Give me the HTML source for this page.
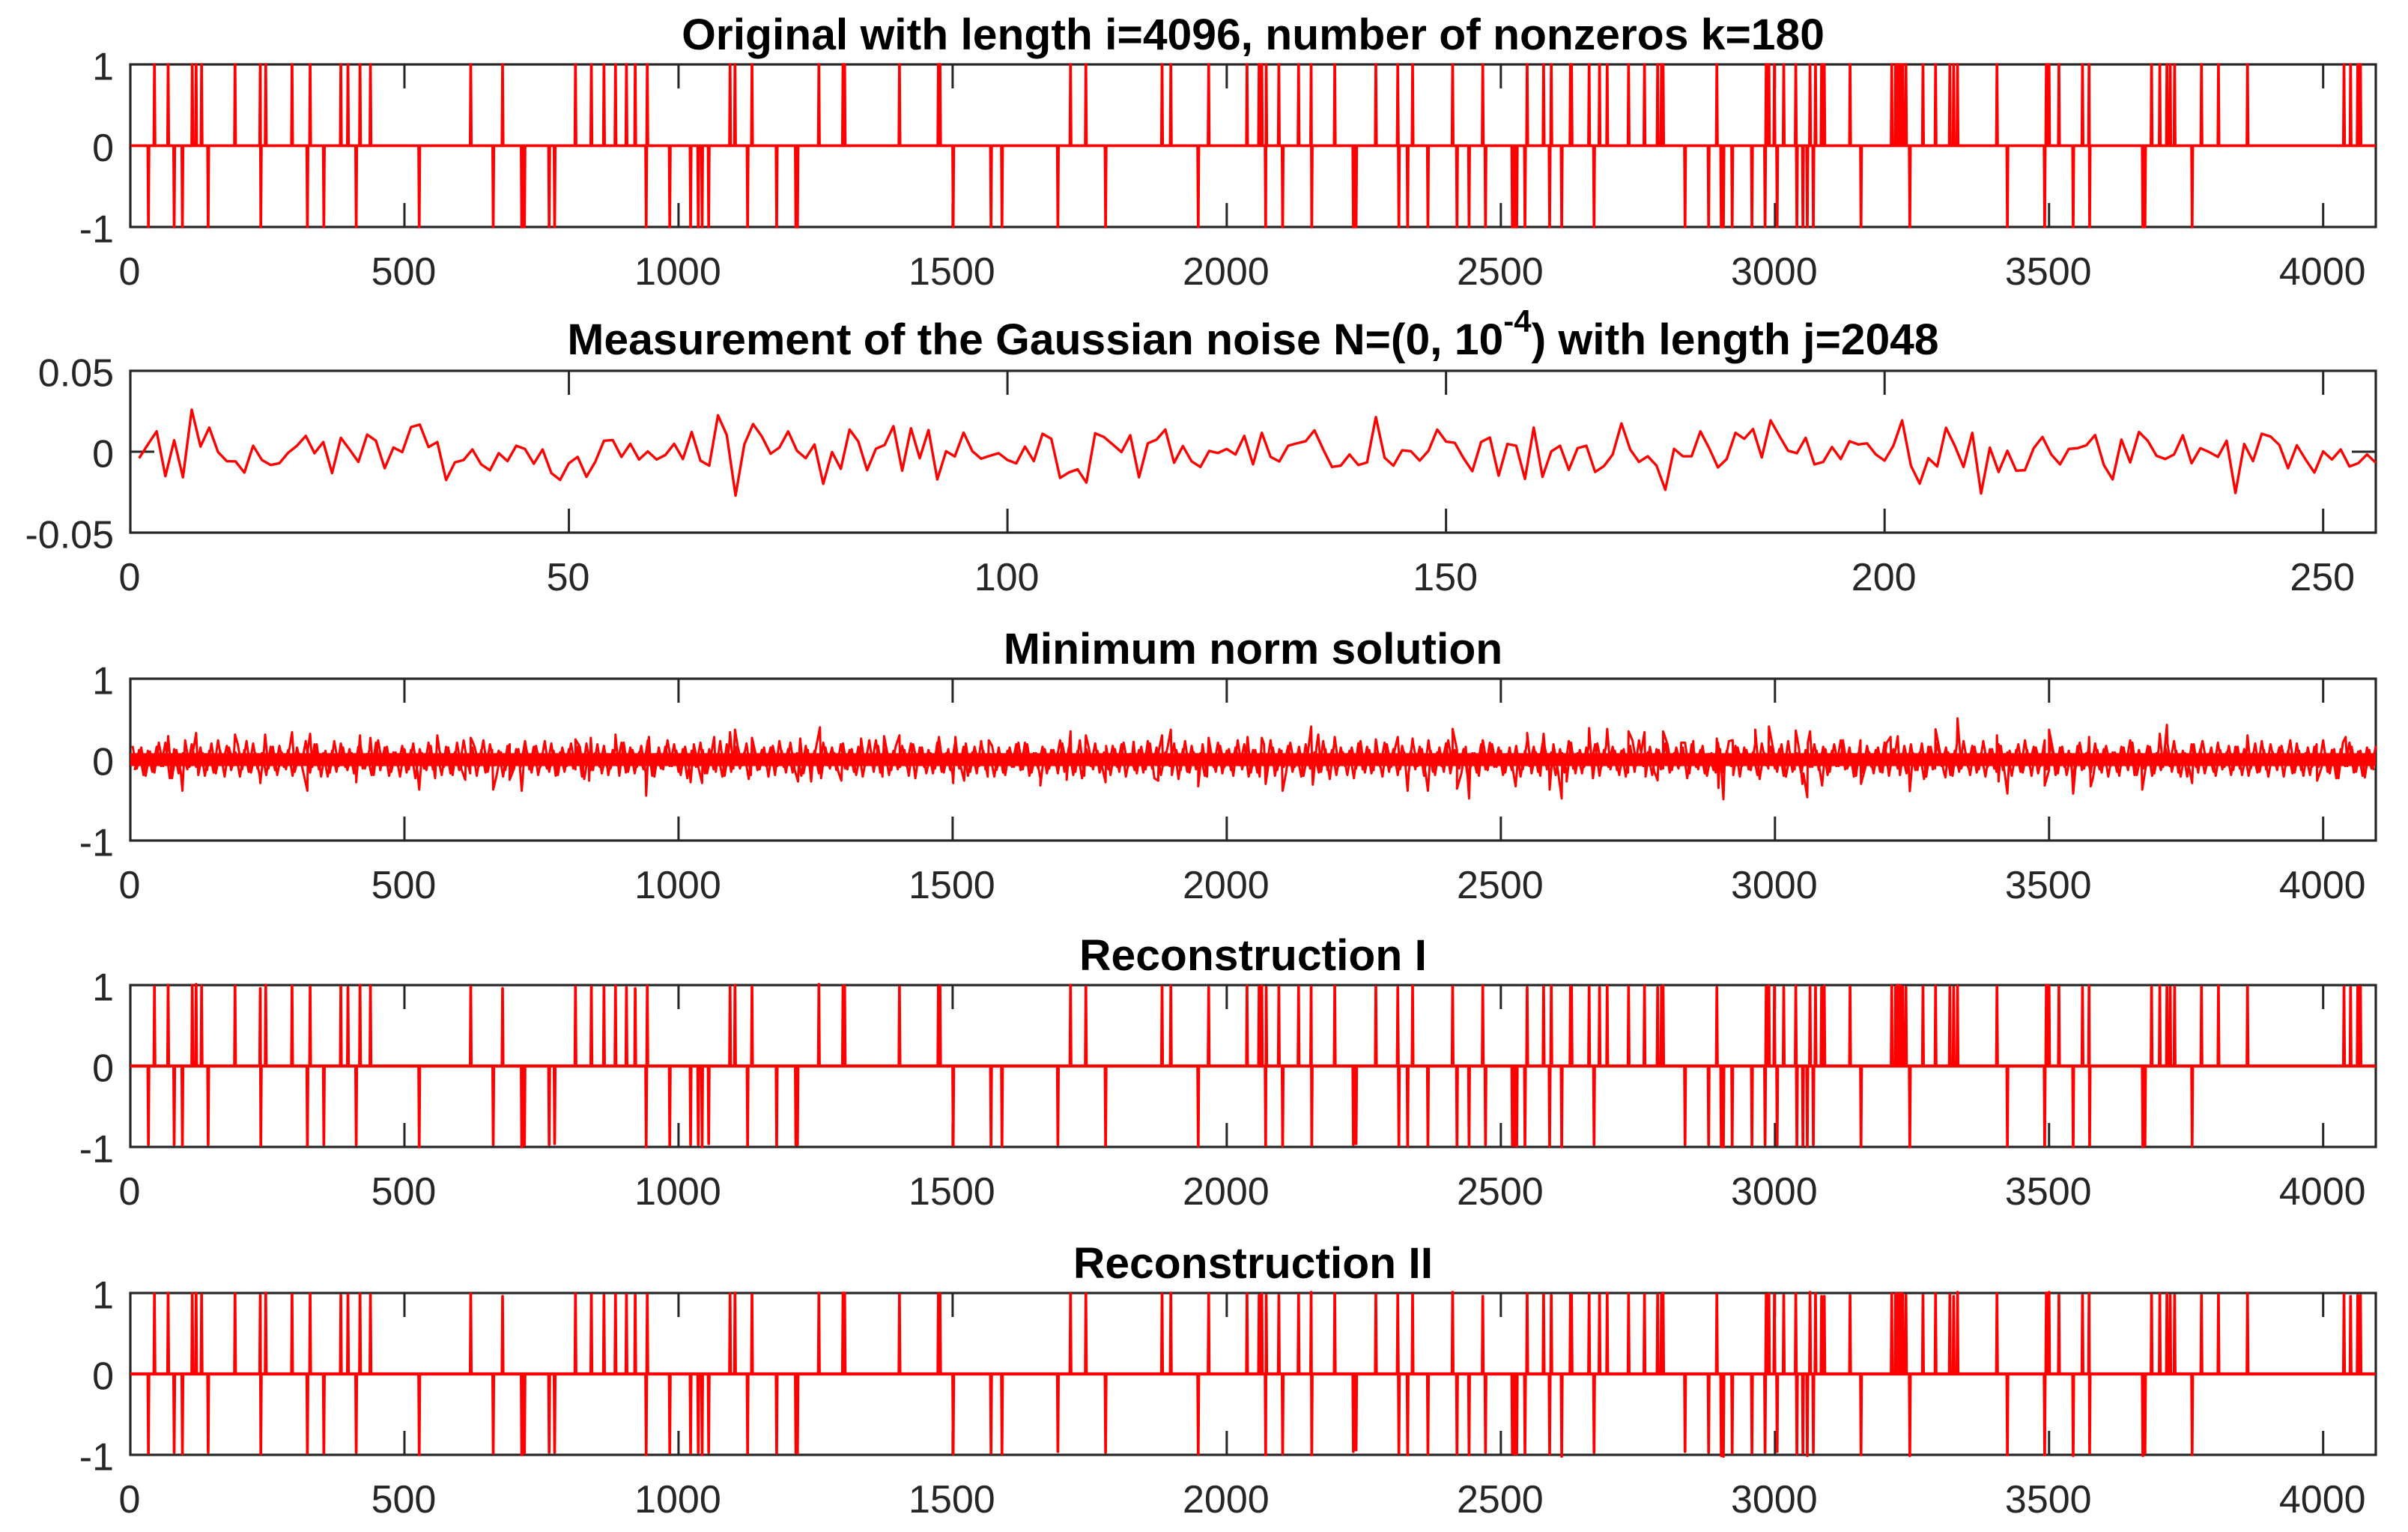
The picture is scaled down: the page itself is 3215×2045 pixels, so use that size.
<!DOCTYPE html>
<html lang="en">
<head>
<meta charset="utf-8">
<title>Sparse signal reconstruction</title>
<style>
html,body{margin:0;padding:0;background:#fff;}
svg{display:block;}
text{font-family:"Liberation Sans",Arial,sans-serif;}
.title{font-weight:700;font-size:58.8px;fill:#000;text-anchor:middle;}
.tick{font-size:52px;fill:#262626;}
</style>
</head>
<body>
<svg id="figure" xmlns="http://www.w3.org/2000/svg" width="3215" height="2045" viewBox="0 0 3215 2045">
<rect x="0" y="0" width="3215" height="2045" fill="#fff"/>
<text class="title" x="1673" y="66">Original with length i=4096, number of nonzeros k=180</text>
<text class="title" x="1673" y="473">Measurement of the Gaussian noise N=(0, 10<tspan font-size="42" dy="-30">-4</tspan><tspan dy="30">) with length j=2048</tspan></text>
<text class="title" x="1673" y="886">Minimum norm solution</text>
<text class="title" x="1673" y="1295">Reconstruction I</text>
<text class="title" x="1673" y="1706">Reconstruction II</text>
</svg>
<script>
const xTicksLong = [0,500,1000,1500,2000,2500,3000,3500,4000];
const xTicksShort = [0,50,100,150,200,250];
const yTicksUnit = [-1,0,1];
const yTicksNoise = [-0.05,0,0.05];
const yLabelsUnit = ["-1","0","1"];
const yLabelsNoise = ["-0.05","0","0.05"];

const spikePositive = [44,69,113,120,130,191,237,247,295,328,384,397,419,438,621,679,812,841,864,885,905,921,943,1094,1103,1134,1256,
1300,1303,1403,1474,1477,1715,1743,1882,1898,1967,2037,2059,2064,2072,2095,2131,2154,2197,2272,2312,2339,2412,2467,2548,2578,2592,2627,2629,2661,2680,2694,
2733,2762,2786,2793,2796,2894,2984,2989,2999,3016,3038,3064,3074,3085,3090,3137,3213,3220,3224,3229,3233,3239,3270,3293,3319,3326,3333,3405,3495,3500,3518,3561,3573,3687,3702,3715,3721,3729,3778,3809,3862,4038,4050,4063,4068];
const spikeNegative = [33,80,95,142,238,323,353,412,527,662,714,719,764,774,941,984,1022,1036,1043,1055,1126,1179,1214,1217,
1501,1570,1590,1692,1779,1948,2071,2102,2155,2231,2236,2314,2330,2367,2420,2442,2472,2521,2525,2529,2544,2589,2611,2670,
2836,2879,2902,2906,2922,2958,2982,3004,3040,3051,3059,3070,3157,3246,3424,3492,3544,3574,3671,3675,3761];

const recon1PositiveAmp = [.98,1,1,1.01,.99,.99,.96,1,.99,.98,.98,.97,1,.99,.98,.96,.98,.98,.98,.99,.97,.96,.99,.98,1,.98,1.01,
.99,.99,.98,.98,.99,1,.98,.98,.99,.97,.99,.98,.99,.97,.98,.98,.98,.99,.98,.97,.99,.98,.99,.97,.98,.99,.98,.98,.98,.97,.99,
.98,.99,.97,.98,.99,.97,.98,.99,.98,.97,.99,.98,.98,.97,.99,.98,.99,.98,1,.99,.98,.97,.98,.99,.98,.97,.99,.98,1,.99,.98,.97,.99,.98,.99,.98,.97,.98,.98,.99,.98,.98,.97,.98,.98];
const recon2PositiveAmp = [.99,1,.99,1,.98,.99,.97,1,.98,.99,.97,.98,.99,.98,.99,.96,.99,.98,.97,.98,.98,.97,.98,.99,1,.98,1,
1,1,.98,.99,.99,.99,.99,.99,1,.99,.99,.97,.99,.97,.97,.98,1.01,.99,.98,.98,.98,1.01,.96,.99,.98,.97,.98,.98,.99,.98,1,
.99,.98,.98,.98,1,.98,.98,.99,.98,.97,.99,1.01,.99,.96,.96,.97,.99,.99,.99,1,.99,.97,.97,.99,.98,.96,1.01,.99,1,1.01,.97,.97,.99,.98,.99,.99,.97,.97,.97,.98,.99,.98,.96,.97,.97];
const recon1NegativeAmp = [.97,.97,.98,.97,.98,.98,.97,.97,1,.97,1,.98,.97,.96,1,.98,.97,.97,1,.96,.98,.98,.97,.97,
.98,.98,.99,.97,.98,.99,.98,.99,.98,.97,.96,.98,.99,.98,.98,.99,.97,.98,.98,.99,.98,.99,1,.97,
.97,.97,.99,1,.98,.98,.97,.97,.98,.98,.99,.97,.99,1,.99,.98,1,.98,1,.98,.99];
const recon2NegativeAmp = [.98,.97,.99,.97,.99,.98,.98,.97,1,.98,1,.98,.97,.97,1,.98,.98,.97,1,.97,.98,.98,.97,.98,
.99,.98,.99,.96,.97,.99,1,.99,1,.96,.94,.98,1,.99,.99,1,.97,.98,.99,.99,.98,.99,1.02,.97,
.96,.97,1.01,1.02,.98,.98,.97,.96,.99,.98,1.01,.97,1,1.01,1,1,1.01,.98,1.01,.98,1];

const noiseMilli = [-4.0,4.5,12.6,-15.1,7.1,-15.8,26.0,3.2,14.9,-0.2,-5.8,-6.0,-12.9,3.7,-5.1,-8.2,-7.1,-0.6,3.7,9.8,-0.9,6.0,-13.2,8.6,1.4,-6.3,10.6,6.8,-10.2,2.6,-0.2,15.2,16.8,2.9,6.0,-17.5,-6.6,-5.1,1.4,-7.8,-11.5,-0.9,-5.8,3.7,1.7,-7.4,1.4,-13.2,-17.4,-7.1,
-3.2,-15.5,-6.3,6.8,7.2,-3.2,4.9,-4.8,0.2,-4.8,-2.0,4.9,-4.5,12.2,-5.5,-8.6,22.5,10.3,-27.1,4.5,17.1,9.4,-1.2,2.6,12.6,0.6,-4.0,4.5,-19.8,-0.2,-10.6,13.7,6.3,-11.4,1.8,4.2,15.8,-11.7,14.5,-4.0,13.4,-17.1,0.3,-2.9,11.8,0.3,-4.3,-2.5,-0.9,-5.1,
-7.2,3.2,-5.8,11.1,8.0,-16.2,-12.8,-10.9,-19.1,11.4,9.1,4.5,-0.2,10.2,-15.8,5.2,7.5,13.7,-6.8,3.5,-6.0,-9.4,0.5,-0.8,1.7,-1.7,9.8,-7.8,11.7,-3.2,-6.0,3.7,5.2,6.5,13.2,1.4,-9.4,-8.6,-1.7,-8.2,-6.6,21.4,-3.7,-8.6,0.9,0.3,-5.5,0.6,13.7,6.3,
5.5,-4.0,-12.0,6.0,8.8,-14.8,4.8,3.7,-16.8,14.9,-15.5,0.2,3.7,-11.2,2.2,3.7,-12.5,-8.9,-1.7,17.5,1.4,-6.3,-2.8,-8.6,-23.5,1.8,-2.8,-2.8,12.6,2.2,-9.7,-4.5,11.7,8.0,14.0,-3.5,19.4,9.8,0.6,-0.9,8.6,-7.8,-6.3,2.9,-4.5,6.5,4.5,5.2,-1.7,-5.5,
3.7,19.4,-8.6,-19.7,-4.0,-9.1,14.8,3.7,-9.4,11.7,-25.8,2.5,-12.5,0.6,-11.7,-11.4,2.2,9.1,-1.7,-7.8,1.7,2.2,4.0,10.3,-8.2,-17.1,7.5,-6.6,12.2,6.8,-2.5,-4.5,-1.7,10.2,-7.1,2.2,-0.2,-3.2,6.8,-25.5,4.8,-5.8,11.1,9.4,4.2,-10.2,4.0,-4.8,-12.9,0.2,-4.8,1.4,-9.1,-7.1,-1.7,-6.8];

const minNormBand = [
17,-11,15,-20,10,-16,21,-8,13,-23,12,-15,24,-9,16,-19,8,-13,20,-17,11,-21,15,-7,19,-12,23,-16,8,-20,13,-11,
16,-19,9,-12,21,-15,7,-17,13,-9,19,-21,11,-16,23,-8,15,-13,8,-20,17,-11,12,-19,24,-7,16,-15,9,-21,13,-12,
20,-16,8,-13,17,-23,11,-9,15,-19,21,-12,7,-17,16,-8,24,-15,12,-20,9,-13,19,-11,13,-21,8,-16,17,-9,23,-15,
11,-19,15,-8,20,-12,16,-24,9,-13,19,-17,7,-11,13,-20,21,-15,12,-9,17,-16,8,-21,15,-12,24,-8,11,-19,16,-13,
19,-9,12,-17,8,-15,23,-20,13,-11,16,-7,20,-19,9,-12,15,-21,17,-8,11,-16,21,-13,7,-17,12,-9,19,-23,15,-11,
8,-16,20,-12,13,-19,9,-8,24,-15,17,-21,11,-13,16,-9,12,-20,19,-7,15,-17,8,-11,23,-16,13,-19,9,-12,20,-15,
16,-8,11,-21,17,-13,7,-19,15,-9,21,-12,19,-16,8,-23,13,-11,12,-17,20,-8,9,-15,24,-20,16,-12,11,-7,17,-19,
13,-15,21,-9,8,-17,16,-12,20,-23,11,-8,15,-19,12,-13,23,-16,9,-11,19,-21,7,-15,17,-9,13,-20,24,-12,8,-16,
12,-21,19,-7,15,-13,11,-17,21,-9,16,-20,8,-12,17,-15,13,-24,20,-8,9,-19,15,-11,23,-16,12,-13,7,-21,19,-9,
17,-12,9,-16,20,-8,13,-23,11,-19,15,-15,24,-7,12,-17,16,-11,8,-20,21,-13,19,-9,11,-16,15,-21,7,-12,23,-17,
9,-20,16,-11,19,-13,8,-15,21,-17,12,-9,15,-23,20,-8,17,-12,11,-19,13,-16,24,-7,9,-21,16,-15,12,-11,19,-13,
15,-7,21,-17,11,-12,17,-20,8,-16,13,-9,23,-19,15,-8,12,-13,20,-24,9,-11,16,-15,19,-21,7,-12,13,-17,21,-9,
11,-23,13,-15,19,-8,16,-11,7,-20,24,-12,9,-17,15,-16,21,-7,12,-19,17,-9,8,-13,20,-21,16,-11,13,-15,9,-20,
20,-11,8,-19,16,-12,23,-9,13,-15,17,-21,11,-7,19,-16,12,-20,15,-8,24,-13,9,-17,16,-19,7,-12,21,-11,13,-23,
12,-16,17,-8,9,-20,15,-13,21,-19,7,-11,16,-17,13,-9,20,-15,11,-21,8,-12,19,-16,23,-7,15,-20,12,-9,17,-13,
16,-19,8,-11,20,-15,12,-21,9,-13,17,-7,24,-16,11,-20,15,-9,19,-12,8,-17,13,-23,21,-8,16,-15,11,-19,12,-13];
const minNormPeakIndex = [69,95,120,191,237,246,295,323,328,412,419,438,527,560,611,621,662,692,714,720,
812,837,840,885,941,946,1022,1043,1065,1094,1103,1134,1218,1222,1242,1258,1297,1333,1375,1403,
1475,1501,1505,1521,1566,1660,1708,1715,1743,1779,1830,1875,1882,1898,1948,1967,2038,2064,2071,2102,
2154,2157,2167,2197,2272,2312,2330,2339,2367,2412,2420,2442,2467,2527,2548,2578,2589,2611,2620,2661,
2694,2733,2762,2786,2796,2829,2851,2894,2897,2906,2923,2964,2989,3038,3050,3059,3064,3086,3124,3157,
3211,3224,3246,3293,3311,3333,3405,3408,3424,3492,3500,3544,3573,3576,3670,3702,3715,3761,3778,3862,3989,4041,4076];
const minNormPeakValue = [.29,-.385,.33,.31,-.29,.31,.34,-.385,.32,-.28,.30,.27,-.37,.30,-.25,.27,-.37,-.25,-.385,.20,
.25,-.26,.27,.31,-.445,.28,-.28,-.29,.28,.34,.37,.27,-.27,.26,-.27,.40,-.26,.26,.29,.30,
.28,-.29,.28,-.26,.24,-.32,-.25,.35,.30,-.28,.22,-.26,.30,.37,-.33,.27,.28,.27,-.30,-.385,
.41,-.31,.31,.28,.25,.28,-.385,.26,-.385,.38,-.36,-.48,.24,-.33,.33,.32,-.37,-.48,-.27,.39,
.38,.35,.34,-.255,.35,.21,.23,.26,-.35,-.49,.24,.37,.41,.36,-.30,-.465,.35,-.32,.24,-.30,
.28,.29,-.39,.375,-.22,.51,.30,-.27,-.42,-.32,.37,-.42,.28,-.33,-.37,.32,.43,-.29,.18,.30,-.26,.28,-.22];
const minNormCoreLevels = [-0.08,0.08];

const svgNS = "http://www.w3.org/2000/svg";
const figure = document.getElementById("figure");
const AXIS_LEFT = 174, AXIS_RIGHT = 3172, TICK_LEN = 32, INK = "#262626", RED = "#ff0000";

function xScale(v, panel){ return AXIS_LEFT + v * (AXIS_RIGHT - AXIS_LEFT) / panel.xMax; }
function yScale(v, panel){ return (panel.top + panel.bottom) / 2 - v / panel.yMax * (panel.bottom - panel.top) / 2; }

function line(x1, y1, x2, y2, stroke, width, name){
  const el = document.createElementNS(svgNS, "line");
  el.setAttribute("x1", x1); el.setAttribute("y1", y1);
  el.setAttribute("x2", x2); el.setAttribute("y2", y2);
  el.setAttribute("stroke", stroke); el.setAttribute("stroke-width", width);
  
  
  figure.appendChild(el);
}
function label(str, x, y, anchor, name){
  const el = document.createElementNS(svgNS, "text");
  el.setAttribute("class", "tick");
  el.setAttribute("x", x); el.setAttribute("y", y);
  el.setAttribute("text-anchor", anchor);
  el.textContent = str;
  
  
  figure.appendChild(el);
}
function trace(points, panel, width, name){
  const el = document.createElementNS(svgNS, "polyline");
  el.setAttribute("points", points.map(p => xScale(p[0], panel).toFixed(2) + "," + yScale(p[1], panel).toFixed(2)).join(" "));
  el.setAttribute("fill", "none");
  el.setAttribute("stroke", RED);
  el.setAttribute("stroke-width", width);
  el.setAttribute("stroke-linejoin", "round");
  
  
  figure.appendChild(el);
}
function axes(panel, xTicks, yTicks, yLabels){
  const box = document.createElementNS(svgNS, "rect");
  box.setAttribute("x", AXIS_LEFT); box.setAttribute("y", panel.top);
  box.setAttribute("width", AXIS_RIGHT - AXIS_LEFT); box.setAttribute("height", panel.bottom - panel.top);
  box.setAttribute("fill", "none"); box.setAttribute("stroke", INK); box.setAttribute("stroke-width", 3.2);
  
  
  figure.appendChild(box);
  xTicks.forEach(t => {
    const x = xScale(t, panel);
    if (t !== 0) {
      line(x, panel.top, x, panel.top + TICK_LEN, INK, 3, panel.name + "-x-tick-top-" + t);
      line(x, panel.bottom, x, panel.bottom - TICK_LEN, INK, 3, panel.name + "-x-tick-bottom-" + t);
    }
    label(String(t), x - 1, panel.bottom + 77, "middle", panel.name + "-x-label-" + t);
  });
  yTicks.forEach((t, i) => {
    const y = yScale(t, panel);
    if (t === 0) {
      line(AXIS_LEFT, y, AXIS_LEFT + TICK_LEN, y, INK, 3, panel.name + "-y-tick-left-0");
      line(AXIS_RIGHT, y, AXIS_RIGHT - TICK_LEN, y, INK, 3, panel.name + "-y-tick-right-0");
    }
    label(yLabels[i], 152, y + 20.5, "end", panel.name + "-y-label-" + i);
  });
}
function spikeSeries(posAmp, negAmp){
  const values = new Map();
  spikePositive.forEach((idx, i) => values.set(idx, posAmp ? posAmp[i] : 1));
  spikeNegative.forEach((idx, i) => values.set(idx, negAmp ? -negAmp[i] : -1));
  const sorted = Array.from(values.keys()).sort((a, b) => a - b);
  const pts = [[1, 0]];
  sorted.forEach(idx => {
    pts.push([idx - 1, values.get(idx - 1) || 0]);
    pts.push([idx, values.get(idx)]);
    pts.push([idx + 1, values.get(idx + 1) || 0]);
  });
  pts.push([4096, 0]);
  return pts;
}

const panelOriginal = {name:"original", top:86, bottom:303, xMax:4096, yMax:1};
const panelNoise = {name:"noise", top:495, bottom:711, xMax:256, yMax:0.05};
const panelMinNorm = {name:"min-norm", top:906, bottom:1122, xMax:4096, yMax:1};
const panelRecon1 = {name:"reconstruction-1", top:1315, bottom:1531, xMax:4096, yMax:1};
const panelRecon2 = {name:"reconstruction-2", top:1726, bottom:1942, xMax:4096, yMax:1};

axes(panelOriginal, xTicksLong, yTicksUnit, yLabelsUnit);
axes(panelNoise, xTicksShort, yTicksNoise, yLabelsNoise);
axes(panelMinNorm, xTicksLong, yTicksUnit, yLabelsUnit);
axes(panelRecon1, xTicksLong, yTicksUnit, yLabelsUnit);
axes(panelRecon2, xTicksLong, yTicksUnit, yLabelsUnit);

trace(spikeSeries(null, null), panelOriginal, 3.7, "original-signal-line");

trace(noiseMilli.map((v, i) => [i + 1, v / 1000]), panelNoise, 3.4, "noise-line");

const core = document.createElementNS(svgNS, "rect");
core.setAttribute("x", xScale(0, panelMinNorm));
core.setAttribute("y", yScale(minNormCoreLevels[1], panelMinNorm));
core.setAttribute("width", xScale(4096, panelMinNorm) - xScale(0, panelMinNorm));
core.setAttribute("height", yScale(minNormCoreLevels[0], panelMinNorm) - yScale(minNormCoreLevels[1], panelMinNorm));
core.setAttribute("fill", RED);


figure.appendChild(core);
const minNormPoints = minNormBand.map((v, i) => [i * 8 + 4, v / 100])
  .concat(minNormPeakIndex.map((idx, i) => [idx, minNormPeakValue[i]]))
  .sort((a, b) => a[0] - b[0]);
trace(minNormPoints, panelMinNorm, 3, "min-norm-line");
const minNormFill = minNormBand.map((v, i) => [i * 8 + 8, minNormBand[minNormBand.length - 1 - i] / 100]);
trace(minNormFill, panelMinNorm, 3, "min-norm-line-fill");

trace(spikeSeries(recon1PositiveAmp, recon1NegativeAmp), panelRecon1, 3.7, "reconstruction-1-line");
line(AXIS_LEFT, yScale(0, panelRecon1), AXIS_RIGHT, yScale(0, panelRecon1), RED, 4.2, "reconstruction-1-baseline");

trace(spikeSeries(recon2PositiveAmp, recon2NegativeAmp), panelRecon2, 3.7, "reconstruction-2-line");
line(AXIS_LEFT, yScale(0, panelRecon2), AXIS_RIGHT, yScale(0, panelRecon2), RED, 4.2, "reconstruction-2-baseline");
</script>
</body>
</html>
